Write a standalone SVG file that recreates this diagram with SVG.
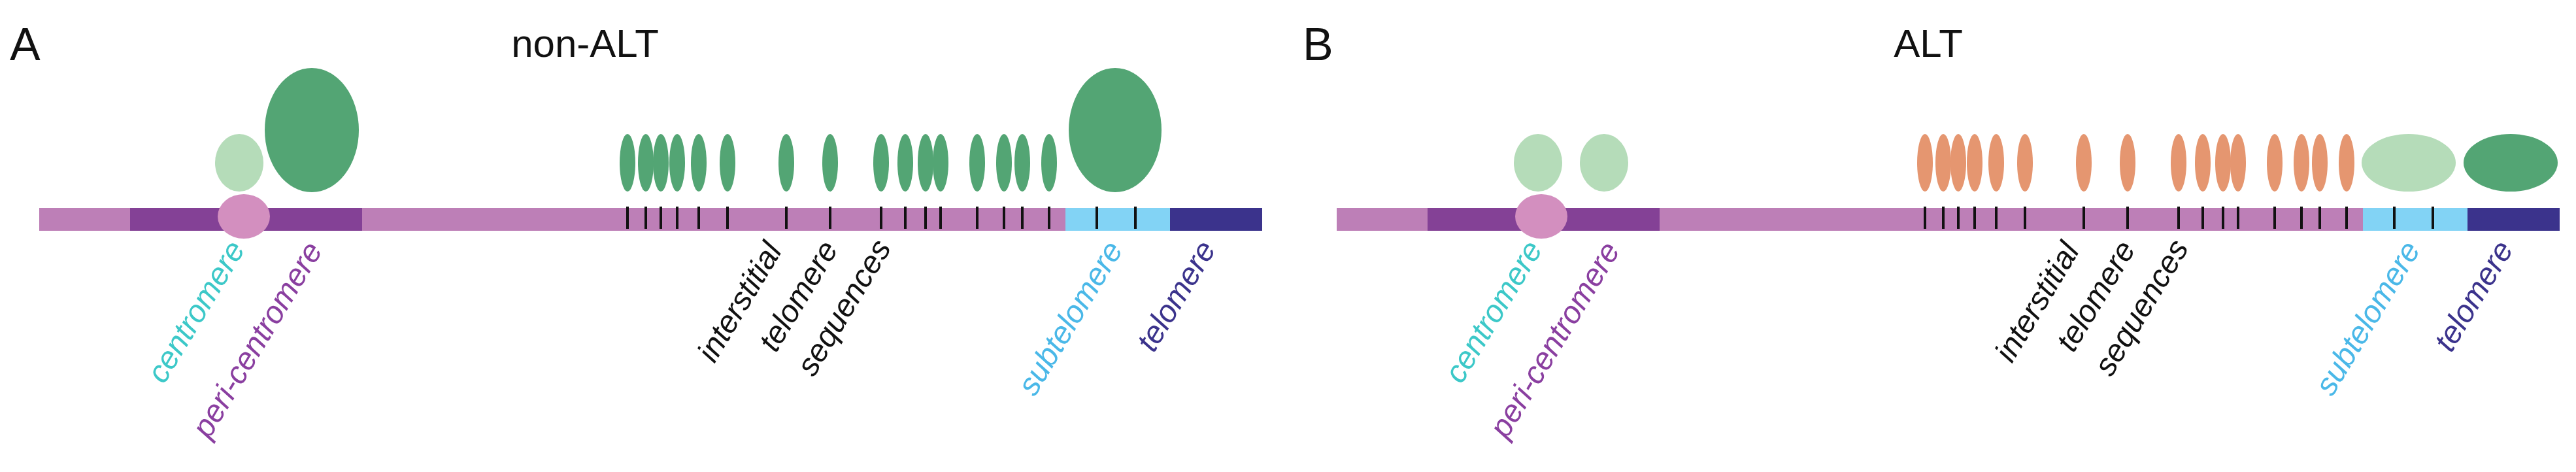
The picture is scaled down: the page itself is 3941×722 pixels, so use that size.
<svg xmlns="http://www.w3.org/2000/svg" width="3941" height="722" viewBox="0 0 3941 722">
<style>
.lbl{font-family:"Liberation Sans",Arial,sans-serif;font-style:italic;font-size:48px}
.ttl{font-family:"Liberation Sans",Arial,sans-serif;font-size:60px;fill:#111}
.pl{font-family:"Liberation Sans",Arial,sans-serif;font-size:70px;fill:#111}
.tick{stroke:#111;stroke-width:4}
.g{fill:#53a574}.lg{fill:#b5dcb9}.o{fill:#e59670}
</style>
<defs>
<g id="chrom">
<rect x="60" y="318" width="1871" height="35" fill="#bd7fb7"/>
<rect x="199" y="318" width="355" height="35" fill="#844196"/>
<rect x="1630" y="318" width="160" height="35" fill="#82d3f5"/>
<rect x="1790" y="318" width="141" height="35" fill="#3b338c"/>
<ellipse cx="373" cy="331" rx="40" ry="34" fill="#d38fbf"/>
<g class="tick">
<line x1="960" y1="316" x2="960" y2="350"/><line x1="988" y1="316" x2="988" y2="350"/><line x1="1011" y1="316" x2="1011" y2="350"/><line x1="1036" y1="316" x2="1036" y2="350"/><line x1="1069" y1="316" x2="1069" y2="350"/><line x1="1113" y1="316" x2="1113" y2="350"/><line x1="1203" y1="316" x2="1203" y2="350"/><line x1="1270" y1="316" x2="1270" y2="350"/><line x1="1348" y1="316" x2="1348" y2="350"/><line x1="1385" y1="316" x2="1385" y2="350"/><line x1="1416" y1="316" x2="1416" y2="350"/><line x1="1439" y1="316" x2="1439" y2="350"/><line x1="1495" y1="316" x2="1495" y2="350"/><line x1="1536" y1="316" x2="1536" y2="350"/><line x1="1564" y1="316" x2="1564" y2="350"/><line x1="1605" y1="316" x2="1605" y2="350"/><line x1="1678" y1="316" x2="1678" y2="350"/><line x1="1737" y1="316" x2="1737" y2="350"/>
</g>
<g class="lbl">
<text transform="translate(251,589) rotate(-59)" fill="#3cc8c8">centromere</text>
<text transform="translate(320,673) rotate(-59)" fill="#8a3fa0">peri-centromere</text>
<text transform="translate(1093,557) rotate(-59)" fill="#111">interstitial</text>
<text transform="translate(1187,541) rotate(-59)" fill="#111">telomere</text>
<text transform="translate(1245,578) rotate(-59)" fill="#111">sequences</text>
<text transform="translate(1583,608) rotate(-59)" fill="#4ab8e8">subtelomere</text>
<text transform="translate(1765,541) rotate(-59)" fill="#3b338c">telomere</text>
</g>
</g>
<g id="foci">
<ellipse cx="960" cy="249" rx="12" ry="44"/><ellipse cx="988" cy="249" rx="12" ry="44"/><ellipse cx="1011" cy="249" rx="12" ry="44"/><ellipse cx="1036" cy="249" rx="12" ry="44"/><ellipse cx="1069" cy="249" rx="12" ry="44"/><ellipse cx="1113" cy="249" rx="12" ry="44"/><ellipse cx="1203" cy="249" rx="12" ry="44"/><ellipse cx="1270" cy="249" rx="12" ry="44"/><ellipse cx="1348" cy="249" rx="12" ry="44"/><ellipse cx="1385" cy="249" rx="12" ry="44"/><ellipse cx="1416" cy="249" rx="12" ry="44"/><ellipse cx="1439" cy="249" rx="12" ry="44"/><ellipse cx="1495" cy="249" rx="12" ry="44"/><ellipse cx="1536" cy="249" rx="12" ry="44"/><ellipse cx="1564" cy="249" rx="12" ry="44"/><ellipse cx="1605" cy="249" rx="12" ry="44"/>
</g>
</defs>
<g id="panelA">
<text class="pl" x="15" y="92">A</text>
<text class="ttl" x="895" y="87" text-anchor="middle">non-ALT</text>
<use href="#chrom"/>
<ellipse class="lg" cx="366" cy="249" rx="37" ry="44"/>
<ellipse class="g" cx="477" cy="199" rx="72" ry="95"/>
<use href="#foci" class="g"/>
<ellipse class="g" cx="1706" cy="199" rx="71" ry="95"/>
</g>
<g id="panelB" transform="translate(1985,0)">
<text class="pl" x="8" y="92">B</text>
<text class="ttl" x="965" y="87" text-anchor="middle">ALT</text>
<use href="#chrom"/>
<ellipse class="lg" cx="368" cy="249" rx="37" ry="44"/>
<ellipse class="lg" cx="469" cy="249" rx="37" ry="44"/>
<use href="#foci" class="o"/>
<ellipse class="lg" cx="1700" cy="249" rx="72" ry="44"/>
<ellipse class="g" cx="1856" cy="249" rx="72" ry="44"/>
</g>
</svg>
